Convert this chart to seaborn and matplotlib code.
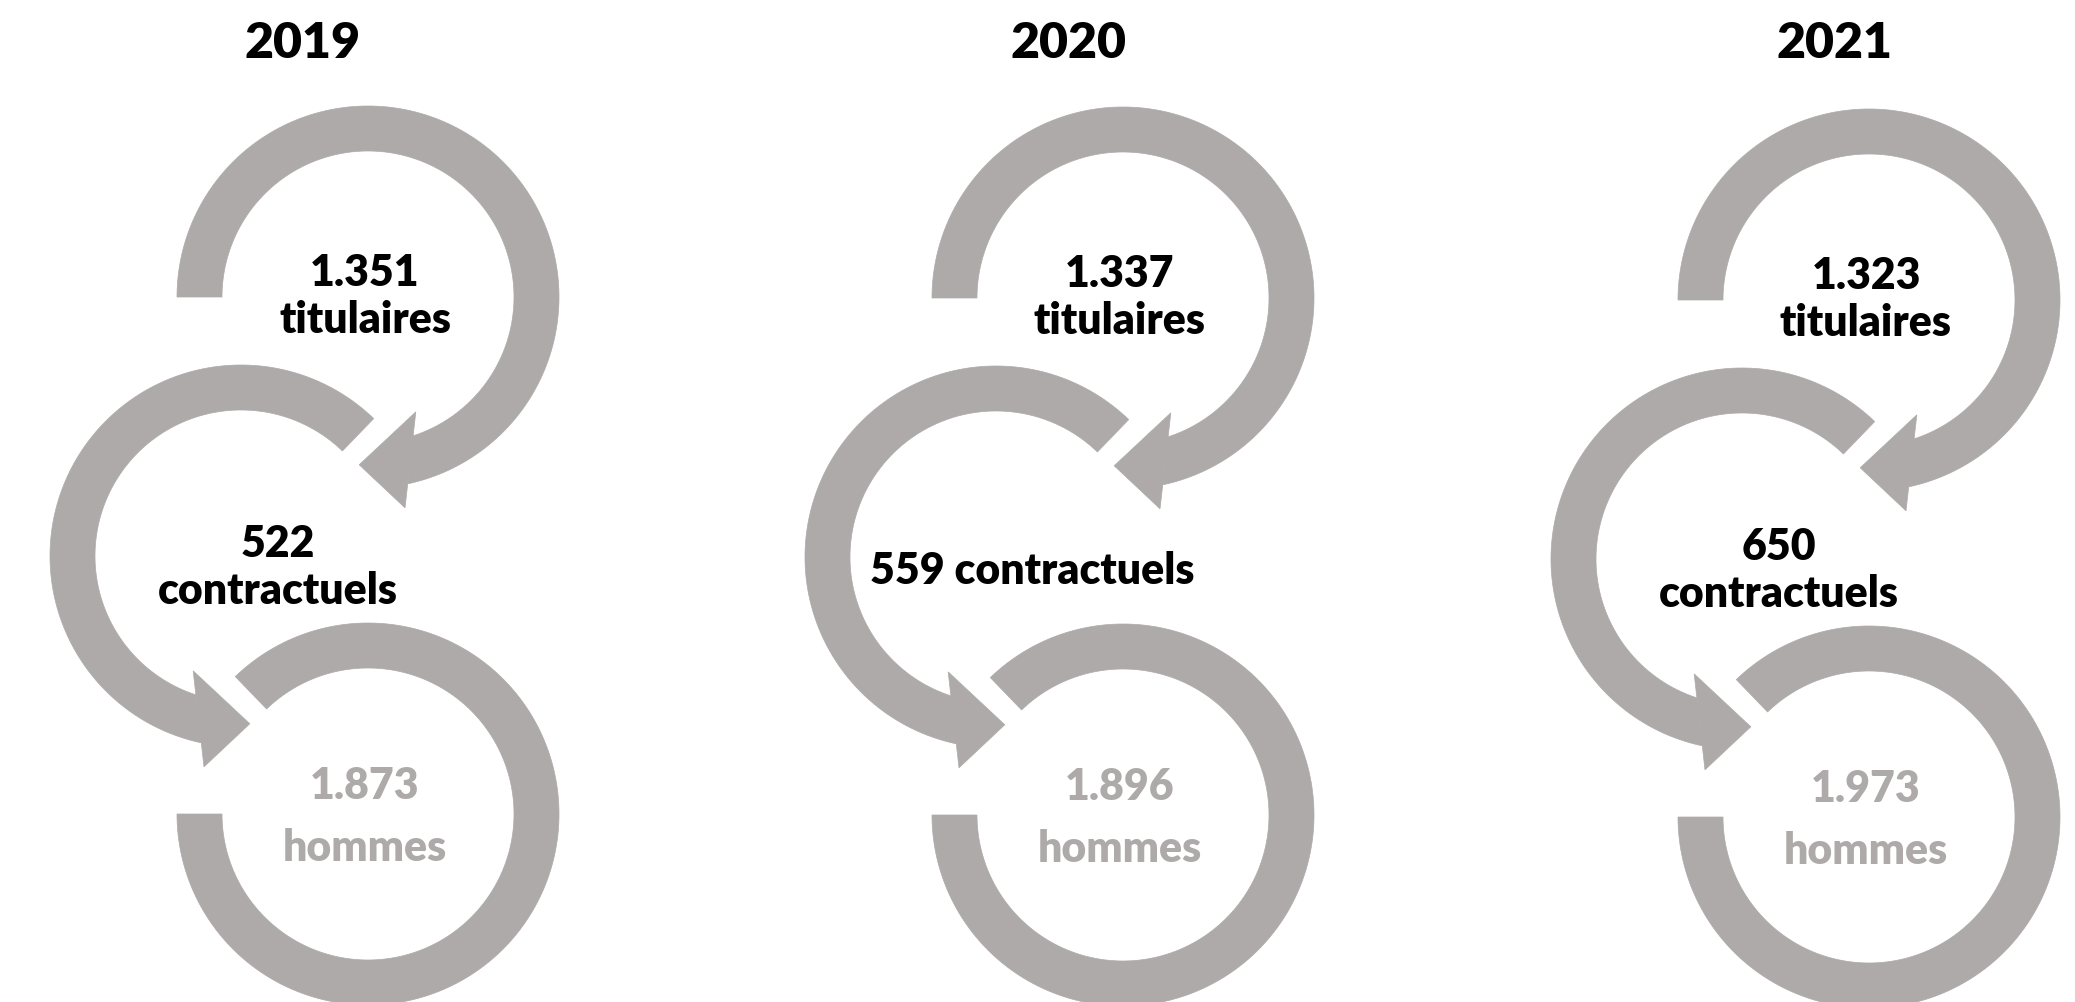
import numpy as np
import matplotlib
matplotlib.use("Agg")
import matplotlib.pyplot as plt
from matplotlib.patches import Polygon
import seaborn as sns

# ---- data ----
years = ["2019", "2020", "2021"]
titulaires = [1351, 1337, 1323]
contractuels = [522, 559, 650]
hommes = [1873, 1896, 1973]

# ---- layout (pixels) ----
panel_cx = [368, 1123, 1869]
panel_cy = [298, 299, 301]
year_x = [303, 1069, 1834]
contr_single_line = [False, True, False]

GREY = "#AEAAAA"
R_IN, R_OUT, R_MID = 146, 191, 168
WEIGHT = "heavy"

sns.set_theme(style="white")
plt.rcParams['font.family'] = ['Lato', 'DejaVu Sans']

W, H = 2075, 1003
fig = plt.figure(figsize=(W / 100, H / 100), dpi=100)
ax = fig.add_axes([0, 0, 1, 1])
ax.set_xlim(0, W)
ax.set_ylim(H, 0)
ax.axis("off")


def pt(cx, cy, r, deg):
    a = np.deg2rad(deg)
    return np.array([cx + r * np.cos(a), cy - r * np.sin(a)])


def ring(cx, cy, th_start, sweep, d, arrow):
    if arrow:
        th_in_end = th_start + d * sweep
        th_out_end = th_start + d * (sweep + 6)
    else:
        th_in_end = th_out_end = th_start + d * sweep
    outer = [pt(cx, cy, R_OUT, a) for a in np.linspace(th_start, th_out_end, 300)]
    inner = [pt(cx, cy, R_IN, a) for a in np.linspace(th_in_end, th_start, 300)]
    ax.add_patch(Polygon(np.array(outer + inner), closed=True, facecolor=GREY,
                         edgecolor=GREY, linewidth=0.5))
    if arrow:
        p_in = pt(cx, cy, R_IN, th_in_end)
        p_out = pt(cx, cy, R_OUT, th_out_end)
        v = p_out - p_in
        b1 = p_in - 0.5 * v
        b2 = p_out + 0.5 * v
        tip = pt(cx, cy, R_MID, th_start + d * (sweep + 21))
        ax.add_patch(Polygon(np.array([b1, tip, b2]), closed=True, facecolor=GREY,
                             edgecolor=GREY, linewidth=0.5))


def fit_size(s, target_w):
    t = fig.text(0, 0, s, fontsize=20, fontweight=WEIGHT)
    fig.canvas.draw()
    w = t.get_window_extent().width
    t.remove()
    return 20 * target_w / w


fs_label = fit_size("titulaires", 172)
fs_year = fit_size("2019", 116)


def fmt(v):
    return f"{v:,}".replace(",", ".")


for i in range(3):
    cx, cy = panel_cx[i], panel_cy[i]
    # rings
    ring(cx, cy, 180, 252, -1, True)              # top ring -> arrow
    ring(cx - 127, cy + 259, 46, 206, +1, True)   # middle ring -> arrow
    ring(cx, cy + 517, 134, 314, -1, False)       # bottom ring

    # texts
    ax.text(year_x[i], 58, years[i], fontsize=fs_year, fontweight=WEIGHT,
            color="black", ha="center", va="baseline")
    ax.text(cx - 3, cy - 12, fmt(titulaires[i]), fontsize=fs_label, fontweight=WEIGHT,
            color="black", ha="center", va="baseline")
    ax.text(cx - 3, cy + 35, "titulaires", fontsize=fs_label, fontweight=WEIGHT,
            color="black", ha="center", va="baseline")
    if contr_single_line[i]:
        ax.text(cx - 91, cy + 285, f"{fmt(contractuels[i])} contractuels", fontsize=fs_label,
                fontweight=WEIGHT, color="black", ha="center", va="baseline")
    else:
        ax.text(cx - 90, cy + 259, fmt(contractuels[i]), fontsize=fs_label, fontweight=WEIGHT,
                color="black", ha="center", va="baseline")
        ax.text(cx - 90, cy + 306, "contractuels", fontsize=fs_label, fontweight=WEIGHT,
                color="black", ha="center", va="baseline")
    ax.text(cx - 3, cy + 501, fmt(hommes[i]), fontsize=fs_label, fontweight=WEIGHT,
            color=GREY, ha="center", va="baseline")
    ax.text(cx - 3, cy + 563, "hommes", fontsize=fs_label, fontweight=WEIGHT,
            color=GREY, ha="center", va="baseline")

fig.savefig("out.png", dpi=100, facecolor="white")
